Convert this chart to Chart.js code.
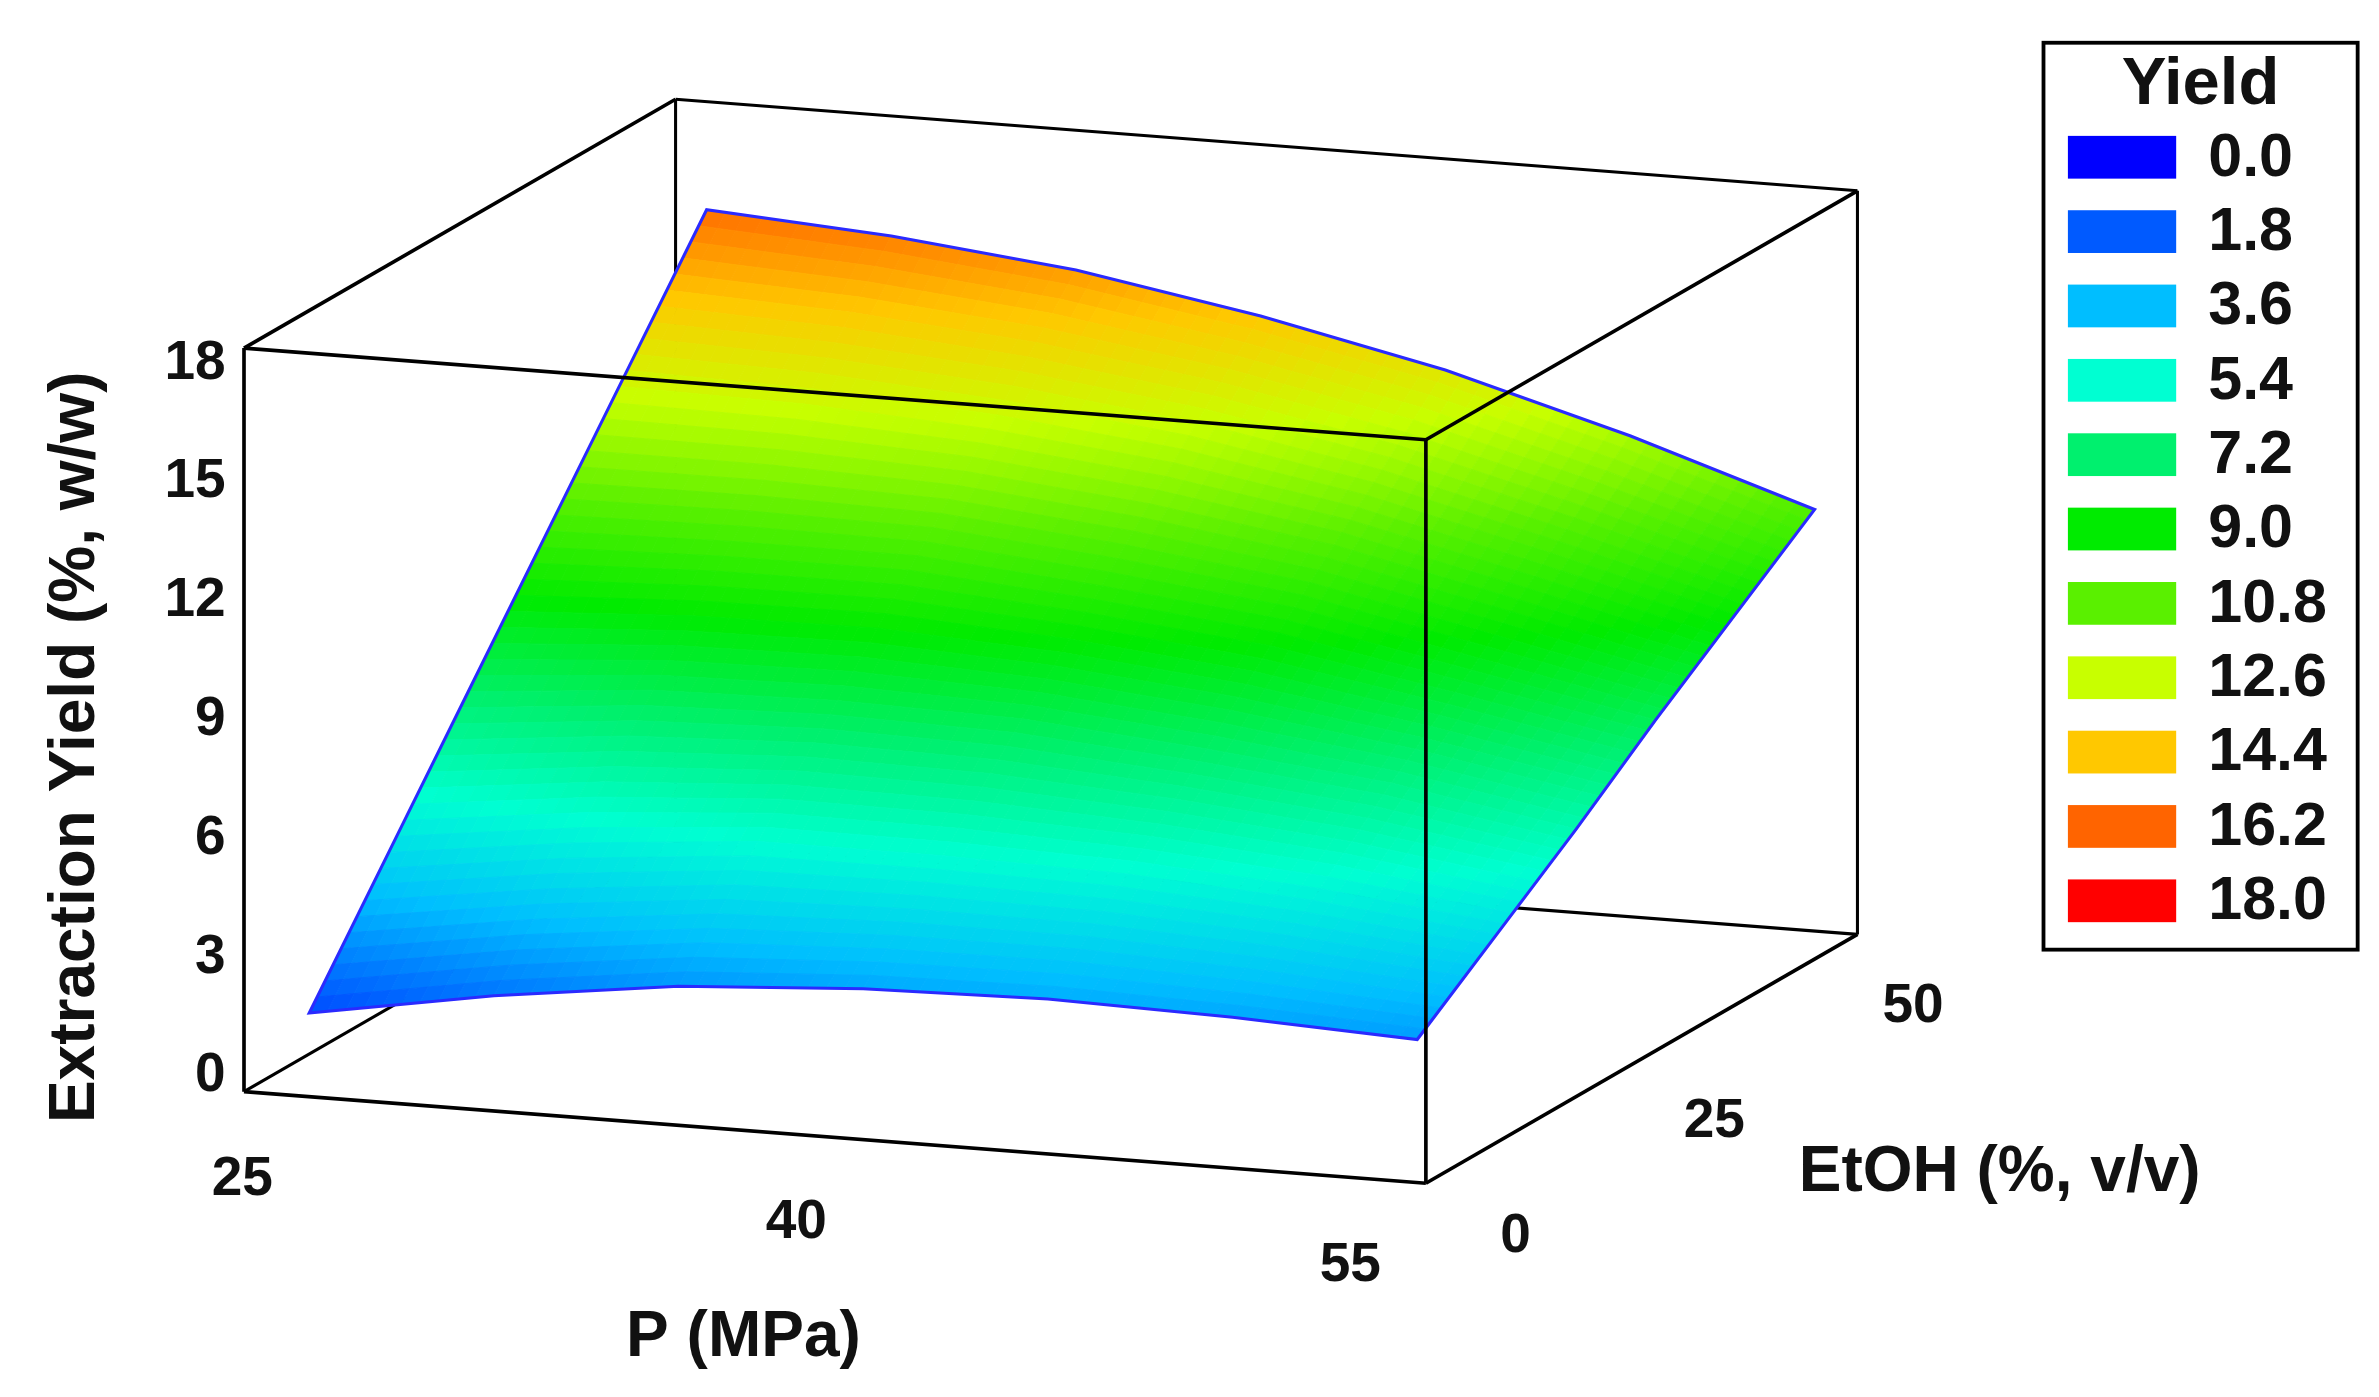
<!DOCTYPE html>
<html><head><meta charset="utf-8">
<script src="https://cdn.jsdelivr.net/npm/chart.js@4"></script>
<style>html,body{margin:0;padding:0;background:#fff;overflow:hidden}</style>
</head><body>
<canvas id="c" width="2379" height="1397"></canvas>
<script>
// ---- data ----
const pressure = [25, 30, 35, 40, 45, 50, 55];          // P (MPa)
const ethanol = [0, 10, 20, 30, 40, 50];                // EtOH (%, v/v)
const yieldGrid = [                                     // rows: ethanol, cols: pressure
  [1.5, 2.3, 2.9, 3.2, 3.3, 3.2, 3.0],
  [4.4, 5.0, 5.4, 5.4, 5.3, 5.0, 4.5],
  [7.3, 7.7, 7.8, 7.7, 7.3, 6.8, 6.0],
  [10.2, 10.3, 10.3, 9.9, 9.4, 8.5, 7.6],
  [13.1, 13.0, 12.7, 12.2, 11.4, 10.3, 9.1],
  [16.0, 15.7, 15.2, 14.4, 13.4, 12.1, 10.6]
];
const pTicks = [25, 40, 55];
const eTicks = [0, 25, 50];
const yTicks = [0, 3, 6, 9, 12, 15, 18];
const legendLevels = [0.0, 1.8, 3.6, 5.4, 7.2, 9.0, 10.8, 12.6, 14.4, 16.2, 18.0];
const legendColors = [[0,0,255],[0,90,255],[0,190,255],[0,255,210],[0,240,110],[0,235,0],[90,240,0],[200,255,0],[255,200,0],[255,100,0],[255,0,0]];

// ---- box geometry (in 1560x915 layout units) ----
const PR = [23.6, 55.6], ER = [-1.7, 52.6], YR = [-0.39, 18.39];
const O = [160, 715], VP = [775, 60], VE = [283, -163], VY = [0, -487];
function proj(p, e, y) {
  const a = (p - PR[0]) / (PR[1] - PR[0]), b = (e - ER[0]) / (ER[1] - ER[0]), c = (y - YR[0]) / (YR[1] - YR[0]);
  return [O[0] + a*VP[0] + b*VE[0] + c*VY[0], O[1] + a*VP[1] + b*VE[1] + c*VY[1]];
}
function colorFor(v) {
  let t = Math.max(0, Math.min(18, v)) / 1.8, i = Math.min(9, Math.floor(t)), f = t - i;
  const a = legendColors[i], b = legendColors[i+1];
  return `rgb(${a.map((x,k)=>Math.round(x+(b[k]-x)*f)).join(',')})`;
}
const FONT = '"Liberation Sans", Arial, sans-serif';

const plugin = {
  id: 'surf3d',
  afterDraw(chart) {
    const ctx = chart.ctx, xs = chart.scales.x, ys = chart.scales.y;
    const S = chart.width / 1560;
    const px = (pt) => [xs.getPixelForValue(pt[0]), ys.getPixelForValue(pt[1])];
    const P3 = (p,e,y) => px(proj(p,e,y));
    const line = (a, b, w) => { ctx.beginPath(); ctx.moveTo(...a); ctx.lineTo(...b); ctx.lineWidth = w*S; ctx.strokeStyle = '#000'; ctx.stroke(); };
    const [p0,p1] = PR, [e0,e1] = ER, [y0,y1] = YR;
    ctx.save();
    [[[p0,e1,y0],[p1,e1,y0]],[[p0,e1,y1],[p1,e1,y1]],[[p0,e1,y0],[p0,e1,y1]],[[p1,e1,y0],[p1,e1,y1]],
     [[p0,e0,y0],[p0,e1,y0]]].forEach(([a,b]) => line(P3(...a), P3(...b), 2));
    const sub = 10;
    const nE = ethanol.length, nP = pressure.length;
    const val = (i, j, u, v) => {
      const a = yieldGrid[i][j], b = yieldGrid[i][j+1], c = yieldGrid[i+1][j], d = yieldGrid[i+1][j+1];
      return a*(1-u)*(1-v) + b*u*(1-v) + c*(1-u)*v + d*u*v;
    };
    for (let i = nE - 2; i >= 0; i--) {
      for (let si = sub - 1; si >= 0; si--) {
        for (let j = 0; j < nP - 1; j++) {
          for (let sj = 0; sj < sub; sj++) {
            const u0 = sj/sub, u1 = (sj+1)/sub, v0 = si/sub, v1 = (si+1)/sub;
            const pa = pressure[j] + (pressure[j+1]-pressure[j])*u0, pb = pressure[j] + (pressure[j+1]-pressure[j])*u1;
            const ea = ethanol[i] + (ethanol[i+1]-ethanol[i])*v0, eb = ethanol[i] + (ethanol[i+1]-ethanol[i])*v1;
            const q = [[pa,ea,val(i,j,u0,v0)],[pb,ea,val(i,j,u1,v0)],[pb,eb,val(i,j,u1,v1)],[pa,eb,val(i,j,u0,v1)]];
            const avg = (q[0][2]+q[1][2]+q[2][2]+q[3][2])/4;
            ctx.beginPath();
            q.forEach((pt,k) => { const s = P3(...pt); k ? ctx.lineTo(...s) : ctx.moveTo(...s); });
            ctx.closePath();
            ctx.fillStyle = colorFor(avg); ctx.strokeStyle = colorFor(avg); ctx.lineWidth = 1;
            ctx.fill(); ctx.stroke();
          }
        }
      }
    }
    ctx.beginPath();
    const outline = [];
    pressure.forEach((p,j) => outline.push([p, ethanol[0], yieldGrid[0][j]]));
    ethanol.forEach((e,i) => outline.push([pressure[nP-1], e, yieldGrid[i][nP-1]]));
    for (let j = nP-1; j >= 0; j--) outline.push([pressure[j], ethanol[nE-1], yieldGrid[nE-1][j]]);
    for (let i = nE-1; i >= 0; i--) outline.push([pressure[0], ethanol[i], yieldGrid[i][0]]);
    outline.forEach((pt,k) => { const s = P3(...pt); k ? ctx.lineTo(...s) : ctx.moveTo(...s); });
    ctx.closePath(); ctx.strokeStyle = '#2a2aff'; ctx.lineWidth = 2*S; ctx.stroke();
    [[[p0,e0,y0],[p1,e0,y0]],[[p0,e0,y1],[p1,e0,y1]],[[p0,e0,y0],[p0,e0,y1]],[[p1,e0,y0],[p1,e0,y1]],
     [[p0,e0,y1],[p0,e1,y1]],[[p1,e0,y1],[p1,e1,y1]],[[p1,e0,y0],[p1,e1,y0]]].forEach(([a,b]) => line(P3(...a), P3(...b), 2.4));
    ctx.fillStyle = '#111';
    ctx.font = `bold ${Math.round(36*S)}px ${FONT}`;
    ctx.textAlign = 'right'; ctx.textBaseline = 'middle';
    yTicks.forEach(t => { const s = P3(p0, e0, t); ctx.fillText(String(t), s[0] - 12*S, s[1]); });
    ctx.textAlign = 'center';
    pTicks.forEach(t => { const s = P3(t, e0, y0); ctx.fillText(String(t), s[0] - 35*S, s[1] + 55*S); });
    eTicks.forEach(t => { const s = P3(p1, t, y0); ctx.fillText(String(t), s[0] + 50*S, s[1] + 40*S); });
    ctx.font = `bold ${Math.round(42*S)}px ${FONT}`;
    const pt = P3((p0+p1)/2, e0, y0); ctx.fillText('P (MPa)', pt[0] - 60*S, pt[1] + 132*S);
    const et = P3(p1, (e0+e1)/2, y0); ctx.textAlign = 'left'; ctx.fillText('EtOH (%, v/v)', et[0] + 103*S, et[1] + 75*S);
    const yt = P3(p0, e0, (y0+y1)/2);
    ctx.save(); ctx.translate(xs.getPixelForValue(50), yt[1] + 18*S); ctx.rotate(-Math.PI/2);
    ctx.textAlign = 'center'; ctx.fillText('Extraction Yield (%, w/w)', 0, 0); ctx.restore();
    const L = (x, y) => [xs.getPixelForValue(x), ys.getPixelForValue(y)];
    const b0 = L(1340, 28), b1 = L(1546, 622);
    ctx.lineWidth = 2.5*S; ctx.strokeStyle = '#000'; ctx.strokeRect(b0[0], b0[1], b1[0]-b0[0], b1[1]-b0[1]);
    ctx.textAlign = 'center'; ctx.font = `bold ${Math.round(44*S)}px ${FONT}`;
    const tt = L(1443, 56); ctx.fillText('Yield', tt[0], tt[1]);
    ctx.font = `bold ${Math.round(40*S)}px ${FONT}`;
    legendLevels.forEach((lv, k) => {
      const cy = 103 + k * 48.7;
      const r0 = L(1356, cy - 14), r1 = L(1427, cy + 14);
      ctx.fillStyle = `rgb(${legendColors[k].join(',')})`; ctx.fillRect(r0[0], r0[1], r1[0]-r0[0], r1[1]-r0[1]);
      ctx.fillStyle = '#111'; ctx.textAlign = 'left';
      const tp = L(1448, cy + 1); ctx.fillText(lv.toFixed(1), tp[0], tp[1]);
    });
    ctx.restore();
  }
};

new Chart(document.getElementById('c'), {
  type: 'scatter',
  data: { datasets: [{ data: [] }] },
  options: {
    responsive: false, animation: false, devicePixelRatio: 1,
    layout: { padding: 0 },
    plugins: { legend: { display: false }, tooltip: { enabled: false } },
    scales: {
      x: { type: 'linear', min: 0, max: 1560, display: false },
      y: { type: 'linear', min: 0, max: 915, reverse: true, display: false }
    }
  },
  plugins: [plugin]
});
</script>
</body></html>
